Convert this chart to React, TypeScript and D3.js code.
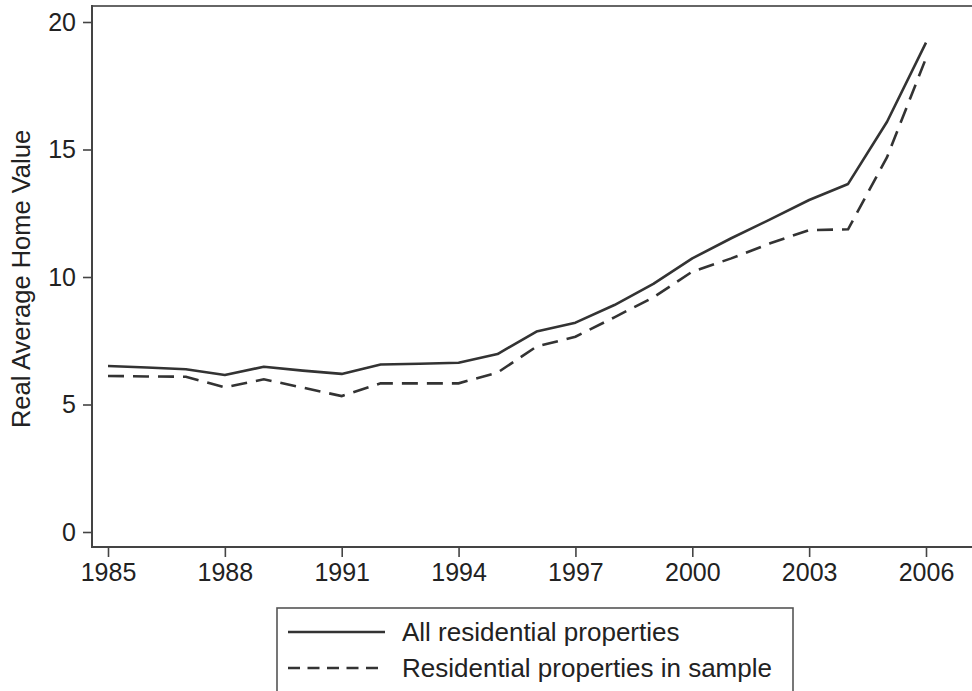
import * as d3 from "d3"
import { useEffect, useRef } from "react"

// values
const years = [1985, 1986, 1987, 1988, 1989, 1990, 1991, 1992, 1993, 1994, 1995,
  1996, 1997, 1998, 1999, 2000, 2001, 2002, 2003, 2004, 2005, 2006]
const allProps = [6.51, 6.45, 6.38, 6.16, 6.48, 6.33, 6.2, 6.57, 6.6, 6.64, 6.98,
  7.86, 8.21, 8.9, 9.73, 10.73, 11.52, 12.26, 13.02, 13.65, 16.09, 19.19]
const sampleProps = [6.12, 6.1, 6.09, 5.67, 5.99, 5.66, 5.33, 5.83, 5.83, 5.83, 6.25,
  7.27, 7.66, 8.42, 9.2, 10.21, 10.73, 11.32, 11.84, 11.87, 14.7, 18.58]
const xTicks = [1985, 1988, 1991, 1994, 1997, 2000, 2003, 2006]
const yTicks = [0, 5, 10, 15, 20]
const legendLabels = ["All residential properties", "Residential properties in sample"]

const FONT = "'Liberation Sans', Arial, Helvetica, sans-serif"
const INK = "#333"
const AXIS = "#444"

function App() {
  const ref = useRef(null)

  useEffect(() => {
    const width = 972
    const height = 691
    const svg = d3.select(ref.current)
    svg.selectAll("*").remove()
    svg.attr("width", width).attr("height", height)

    const left = 92, top = 6, bottom = 547

    const x = d3.scaleLinear().domain([1985, 2006]).range([108, 926])
    const y = d3.scaleLinear().domain([0, 20]).range([532, 22])

    // frame: top border, left and bottom axis lines
    svg.append("line")
      .attr("x1", left).attr("x2", width).attr("y1", top).attr("y2", top)
      .attr("stroke", "#666").attr("stroke-width", 2)
    svg.append("line")
      .attr("x1", left).attr("x2", left).attr("y1", top - 1).attr("y2", bottom + 1)
      .attr("stroke", AXIS).attr("stroke-width", 2)
    svg.append("line")
      .attr("x1", left - 1).attr("x2", width).attr("y1", bottom).attr("y2", bottom)
      .attr("stroke", AXIS).attr("stroke-width", 2)

    // y axis
    const gy = svg.append("g")
      .attr("transform", `translate(${left},0)`)
      .call(d3.axisLeft(y).tickValues(yTicks).tickSize(9).tickPadding(7).tickFormat(d3.format("d")))
    gy.select(".domain").remove()
    gy.selectAll(".tick line").attr("stroke", AXIS).attr("stroke-width", 1.6)
    gy.selectAll(".tick text")
      .attr("fill", "#222").style("font-family", FONT).style("font-size", "25px")

    // x axis
    const gx = svg.append("g")
      .attr("transform", `translate(0,${bottom})`)
      .call(d3.axisBottom(x).tickValues(xTicks).tickSize(10).tickPadding(6).tickFormat(d3.format("d")))
    gx.select(".domain").remove()
    gx.selectAll(".tick line").attr("stroke", AXIS).attr("stroke-width", 1.6)
    gx.selectAll(".tick text")
      .attr("fill", "#222").style("font-family", FONT).style("font-size", "25px")

    // y title
    svg.append("text")
      .attr("transform", `translate(30,279) rotate(-90)`)
      .attr("text-anchor", "middle")
      .attr("fill", "#222")
      .style("font-family", FONT).style("font-size", "25.5px")
      .text("Real Average Home Value")

    // lines
    const line = d3.line<number>()
      .x((d, i) => x(years[i]))
      .y(d => y(d))

    svg.append("path")
      .datum(allProps)
      .attr("d", line)
      .attr("fill", "none").attr("stroke", INK).attr("stroke-width", 2.6)
      .attr("stroke-linejoin", "round")

    svg.append("path")
      .datum(sampleProps)
      .attr("d", line)
      .attr("fill", "none").attr("stroke", INK).attr("stroke-width", 2.6)
      .attr("stroke-dasharray", "16 9")

    // legend
    const lg = svg.append("g")
    lg.append("rect")
      .attr("x", 277).attr("y", 608).attr("width", 516).attr("height", 90)
      .attr("fill", "white").attr("stroke", "#555").attr("stroke-width", 1.6)
    const rows = [632, 668]
    legendLabels.forEach((lab, i) => {
      lg.append("line")
        .attr("x1", 288).attr("x2", 385).attr("y1", rows[i]).attr("y2", rows[i])
        .attr("stroke", INK).attr("stroke-width", 2.4)
        .attr("stroke-dasharray", i === 1 ? "12 7.5" : null)
      lg.append("text")
        .attr("x", 402).attr("y", rows[i] + 9)
        .attr("fill", "#222")
        .style("font-family", FONT).style("font-size", "26px")
        .text(lab)
    })
  }, [])

  return (
    <div style={{ position: "absolute", left: 0, top: 0, background: "white" }}>
      <svg ref={ref}></svg>
    </div>
  )
}

export default App
